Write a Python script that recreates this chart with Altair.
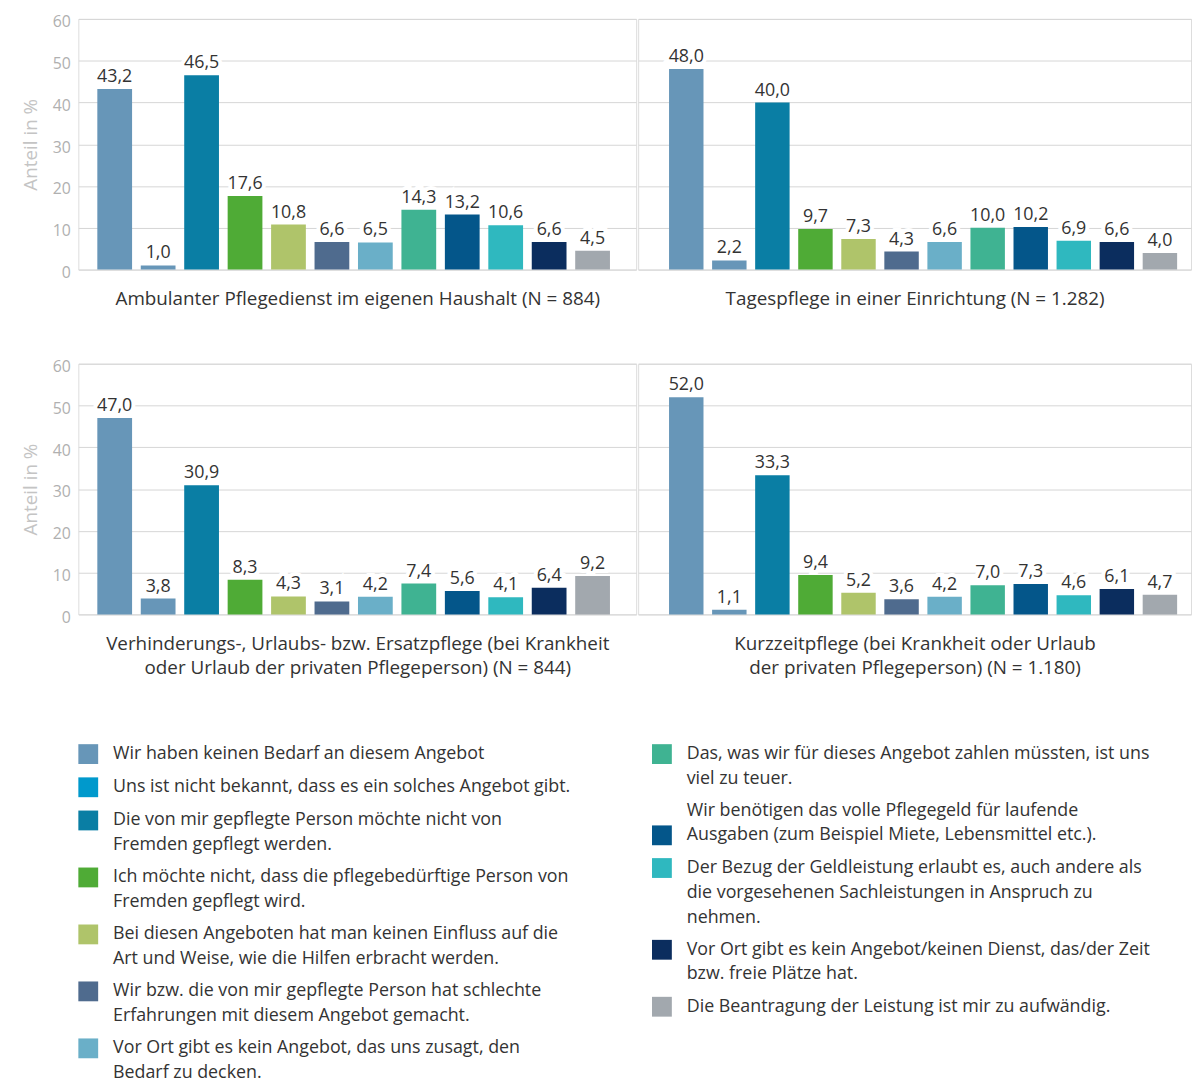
import altair as alt
import pandas as pd

categories = [
    "Wir haben keinen Bedarf an diesem Angebot",
    "Uns ist nicht bekannt, dass es ein solches Angebot gibt.",
    "Die von mir gepflegte Person möchte nicht von\nFremden gepflegt werden.",
    "Ich möchte nicht, dass die pflegebedürftige Person von\nFremden gepflegt wird.",
    "Bei diesen Angeboten hat man keinen Einfluss auf die\nArt und Weise, wie die Hilfen erbracht werden.",
    "Wir bzw. die von mir gepflegte Person hat schlechte\nErfahrungen mit diesem Angebot gemacht.",
    "Vor Ort gibt es kein Angebot, das uns zusagt, den\nBedarf zu decken.",
    "Das, was wir für dieses Angebot zahlen müssten, ist uns\nviel zu teuer.",
    "Wir benötigen das volle Pflegegeld für laufende\nAusgaben (zum Beispiel Miete, Lebensmittel etc.).",
    "Der Bezug der Geldleistung erlaubt es, auch andere als\ndie vorgesehenen Sachleistungen in Anspruch zu\nnehmen.",
    "Vor Ort gibt es kein Angebot/keinen Dienst, das/der Zeit\nbzw. freie Plätze hat.",
    "Die Beantragung der Leistung ist mir zu aufwändig.",
]

panel_titles = [
    ["Ambulanter Pflegedienst im eigenen Haushalt (N = 884)"],
    ["Tagespflege in einer Einrichtung (N = 1.282)"],
    ["Verhinderungs-, Urlaubs- bzw. Ersatzpflege (bei Krankheit",
     "oder Urlaub der privaten Pflegeperson) (N = 844)"],
    ["Kurzzeitpflege (bei Krankheit oder Urlaub",
     "der privaten Pflegeperson) (N = 1.180)"],
]

values_ambulant = [43.2, 1.0, 46.5, 17.6, 10.8, 6.6, 6.5, 14.3, 13.2, 10.6, 6.6, 4.5]
values_tagespflege = [48.0, 2.2, 40.0, 9.7, 7.3, 4.3, 6.6, 10.0, 10.2, 6.9, 6.6, 4.0]
values_verhinderung = [47.0, 3.8, 30.9, 8.3, 4.3, 3.1, 4.2, 7.4, 5.6, 4.1, 6.4, 9.2]
values_kurzzeit = [52.0, 1.1, 33.3, 9.4, 5.2, 3.6, 4.2, 7.0, 7.3, 4.6, 6.1, 4.7]

legend_colors = ["#6796b8", "#0099cc", "#0a7ea4", "#4fab36", "#afc46a", "#4f6b8e",
                 "#6aafc8", "#3fb392", "#04568a", "#2fb8bf", "#0b2d5e", "#a2a8ae"]
bar_colors = [legend_colors[0], legend_colors[0]] + legend_colors[2:]

FONT = "Open Sans"
TXT = "#333333"
H = 253


def make_panel(vals, title_lines, show_y, align, width):
    df = pd.DataFrame({
        "cat": categories,
        "value": vals,
        "label": [f"{v:.1f}".replace(".", ",") for v in vals],
    })
    x = alt.X("cat:N", sort=categories,
              scale=alt.Scale(paddingInner=0.2, paddingOuter=0.52, align=align),
              axis=alt.Axis(labels=False, ticks=False, domain=False,
                            title=title_lines, titleFont=FONT, titleFontSize=19,
                            titleFontWeight="normal", titleColor=TXT,
                            titlePadding=20, titleLineHeight=25))
    if show_y:
        yaxis = alt.Axis(values=[0, 10, 20, 30, 40, 50, 60], grid=True, gridColor="#d6d6d6",
                         domain=False, ticks=False, labelColor="#b0b0b0", labelFont=FONT,
                         labelFontSize=16, labelPadding=8, labelOffset=3,
                         title="Anteil in %",
                         titleColor="#c4c4c4", titleFont=FONT, titleFontSize=19,
                         titleFontWeight="normal", titlePadding=12)
    else:
        yaxis = alt.Axis(values=[0, 10, 20, 30, 40, 50, 60], grid=True, gridColor="#d6d6d6",
                         domain=False, ticks=False, labels=False, title=None)
    y = alt.Y("value:Q", scale=alt.Scale(domain=[0, 60], nice=False), axis=yaxis)
    base = alt.Chart(df).encode(x=x, y=y)
    bars = base.mark_bar().encode(
        color=alt.Color("cat:N", scale=alt.Scale(domain=categories, range=bar_colors), legend=None)
    )
    halo = base.mark_text(baseline="alphabetic", dy=-7, font=FONT, fontSize=18,
                          stroke="white", strokeWidth=8, color="white").encode(text="label:N")
    txt = base.mark_text(baseline="alphabetic", dy=-7, font=FONT, fontSize=18,
                         color=TXT).encode(text="label:N")
    return alt.layer(bars, halo, txt).properties(width=width, height=H)


p1 = make_panel(values_ambulant, panel_titles[0], True, 0.42, 563)
p2 = make_panel(values_tagespflege, panel_titles[1], False, 0.69, 558)
p3 = make_panel(values_verhinderung, panel_titles[2], True, 0.42, 563)
p4 = make_panel(values_kurzzeit, panel_titles[3], False, 0.69, 558)

row1 = alt.hconcat(p1, p2, spacing=0)
row2 = alt.hconcat(p3, p4, spacing=0)

leg_df = pd.DataFrame({"cat": categories, "group": [0] * 7 + [1, 2, 3, 3, 3]})


def leg_layer(group, lx, ly, shape="square"):
    cats = [c for c, g in zip(categories, leg_df["group"]) if g == group]
    cols = [col for col, g in zip(legend_colors, leg_df["group"]) if g == group]
    return alt.Chart(leg_df).transform_filter(alt.datum.group == group).mark_square(
        opacity=0, filled=True).encode(
        color=alt.Color("cat:N", scale=alt.Scale(domain=cats, range=cols),
                        legend=alt.Legend(orient="none", legendX=lx, legendY=ly, title=None,
                                          direction="vertical", symbolType=shape,
                                          symbolSize=400, symbolStrokeWidth=0,
                                          symbolOpacity=1,
                                          labelFont=FONT, labelFontSize=18, labelColor=TXT,
                                          labelLimit=0, labelOffset=15, rowPadding=13.5,
                                          labelExpr="split(datum.label, '\\n')"))
    )


legend_chart = alt.layer(
    leg_layer(0, 0, 0),
    leg_layer(1, 579, 0),
    leg_layer(2, 579, 57, "M-1,1.5H1V3.5H-1Z"),
    leg_layer(3, 579, 115),
).resolve_scale(color="independent").properties(
    width=1100, height=10, view=alt.ViewBackground(stroke="transparent"))

chart = alt.vconcat(
    alt.vconcat(row1, row2, spacing=49),
    legend_chart,
    spacing=65,
).resolve_scale(color="independent").properties(
    padding={"left": 13, "top": 0, "right": 0, "bottom": 0}
).configure_view(stroke="#c8c8c8").configure(
    style={"guide-label": {"lineHeight": 25}}
)

chart.save("out.html", embed_options={"renderer": "svg", "actions": False})
